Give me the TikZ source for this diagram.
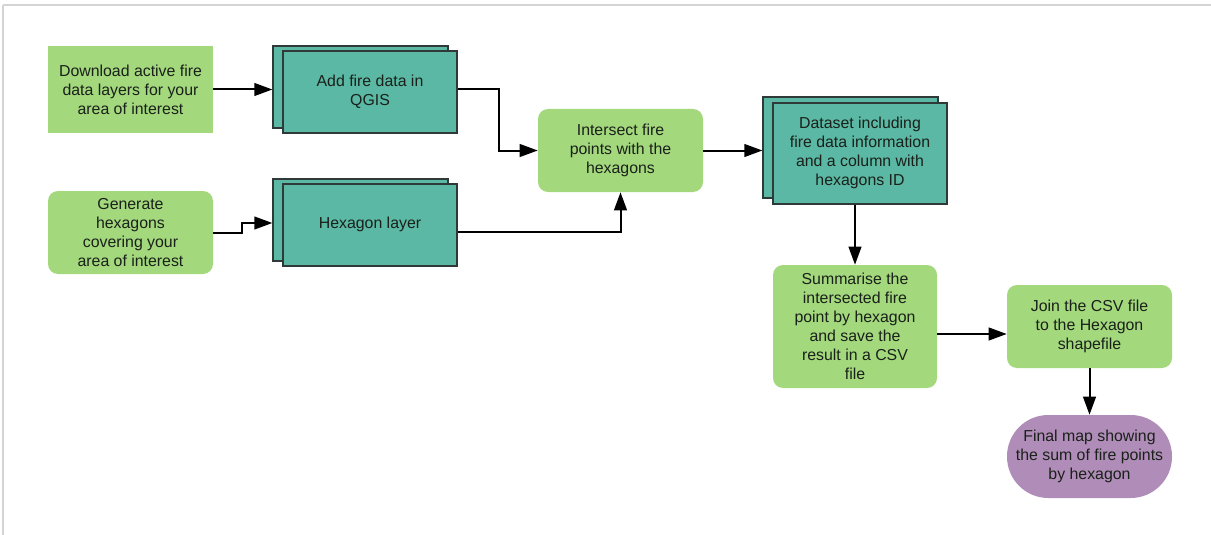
\documentclass[tikz,border=0pt]{standalone}
\usepackage{fontspec}
\setmainfont{Liberation Sans}
\usetikzlibrary{arrows.meta,calc}
\definecolor{gfill}{HTML}{A3D87C}
\definecolor{tfill}{HTML}{5BB8A4}
\definecolor{pfill}{HTML}{B08DB8}
\definecolor{tborder}{HTML}{2F3A38}
\definecolor{framecol}{HTML}{D4D4D4}
\definecolor{txt}{HTML}{1A201A}
\newcommand\pxu{0.75pt}
\newcommand\uptext[1]{\raisebox{2.5pt}{\begin{tabular}{@{}c@{}}#1\end{tabular}}}
\begin{document}
\begin{tikzpicture}[x=0.75pt,y=-0.75pt,
  font=\fontsize{11.9}{14.3}\selectfont,
  base/.style={align=center, text=txt, inner sep=0pt, draw=none},
  gbox/.style={base, fill=gfill, rounded corners=7.5pt},
  sqbox/.style={base, fill=gfill},
  tbox/.style={base, fill=tfill, draw=tborder, line width=0.9pt},
  pbox/.style={base, fill=pfill, rounded corners=31pt},
  sz/.style 2 args={minimum width=#1*\pxu, minimum height=#2*\pxu},
  arr/.style={line width=1.5pt, -{Triangle[length=13.5pt,width=9.5pt]}}]
\useasboundingbox (0,0) rectangle (1211,535);
\fill[white] (0,0) rectangle (1211,535);
\draw[framecol, line width=1.5pt] (3,5) -- (1211,5);
\draw[framecol, line width=0.8pt] (3,5) -- (3,535);

% back sheets of stacked boxes
\node[tbox, sz={175}{82}] (Bs) at (360.5,87) {};
\node[tbox, sz={175}{82}] (Ds) at (360.5,220) {};
\node[tbox, sz={175}{101}] (Fs) at (850.5,147.5) {};

% nodes
\node[sqbox, sz={165}{87}] (A) at (130.5,89.5) {Download active fire\\data layers for your\\area of interest};
\node[tbox, sz={174}{82}] (B) at (370,92) {\uptext{Add fire data in\\QGIS}};
\node[gbox, sz={165}{83}] (C) at (130.5,232.5) {Generate\\hexagons\\covering your\\area of interest};
\node[tbox, sz={174}{82}] (D) at (370,225) {\uptext{Hexagon layer}};
\node[gbox, sz={165}{83}] (E) at (620.5,150.5) {Intersect fire\\points with the\\hexagons};
\node[tbox, sz={174}{101}] (F) at (860,153.5) {\uptext{Dataset including\\fire data information\\and a column with\\hexagons ID}};
\node[gbox, sz={164}{123}] (G) at (855,326.5) {Summarise the\\intersected fire\\point by hexagon\\and save the\\result in a CSV\\file};
\node[gbox, sz={165}{83}] (H) at (1089.5,326.5) {Join the CSV file\\to the Hexagon\\shapefile};
\node[pbox, sz={165}{83}] (I) at (1089.5,456.5) {Final map showing\\the sum of fire points\\by hexagon};

% connectors
\draw[arr] (A.east) -- (A.east -| Bs.west);
\draw[arr] ($(B.east)+(0,-3)$) -- ++(41,0) |- (E.west);
\draw[arr] (C.east) -- ++(29,0) |- ($(Ds.west)+(0,3)$);
\draw[arr] ($(D.east)+(0,7)$) -| (E.south);
\draw[arr] (E.east) -- (E.east -| Fs.west);
\draw[arr] (G.north |- F.south) -- (G.north);
\draw[arr] ($(G.east)+(0,7.5)$) -- ($(H.west)+(0,7.5)$);
\draw[arr] (H.south) -- (I.north);
\end{tikzpicture}
\end{document}
